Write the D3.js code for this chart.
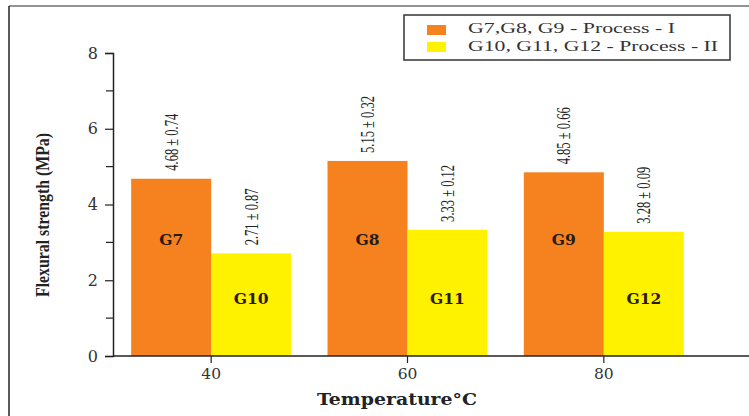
<!DOCTYPE html>
<html>
<head>
<meta charset="utf-8">
<script src="https://cdn.jsdelivr.net/npm/d3@7"></script>
<style>
  html, body { margin: 0; padding: 0; background: #fff; }
  svg { display: block; }
</style>
</head>
<body>
<svg id="chart" width="749" height="416"></svg>
<script>
// Flexural strength by processing temperature, two processes
const temperatures = ["40", "60", "80"];
const seriesNames = ["G7,G8, G9 - Process - I", "G10, G11, G12 - Process - II"];
const groupsI = ["G7", "G8", "G9"];
const groupsII = ["G10", "G11", "G12"];
const strengthI = [4.68, 5.15, 4.85];
const strengthII = [2.71, 3.33, 3.28];
const errorI = [0.74, 0.32, 0.66];
const errorII = [0.87, 0.12, 0.09];
const yTicks = [0, 2, 4, 6, 8];
const yMinorTicks = [1, 3, 5, 7];
const colors = ["#F5821F", "#FFF200"];

const svg = d3.select("#chart");
const W = 749, H = 416;

// page frame (top and left rules)
svg.append("line").attr("x1", 9).attr("x2", W).attr("y1", 6).attr("y2", 6)
  .attr("stroke", "#6f6f6f").attr("stroke-width", 1.5);
svg.append("line").attr("x1", 9).attr("x2", 9).attr("y1", 6).attr("y2", H)
  .attr("stroke", "#222").attr("stroke-width", 1.5);

const plot = { left: 113, top: 53, bottom: 356, right: 702 };

const x0 = d3.scaleBand().domain(temperatures).range([plot.left, plot.right]).padding(0);
const x1 = d3.scaleBand().domain([0, 1]).range([-80, 80]).padding(0);
const y = d3.scaleLinear().domain([0, 8]).range([plot.bottom, plot.top]);

const rows = temperatures.map((t, i) => [
  { t, s: 0, v: strengthI[i], e: errorI[i], g: groupsI[i] },
  { t, s: 1, v: strengthII[i], e: errorII[i], g: groupsII[i] }
]).flat();

const cx = d => x0(d.t) + x0.bandwidth() / 2;

// bars
svg.append("g").selectAll("rect").data(rows).join("rect")
  .attr("x", d => cx(d) + x1(d.s))
  .attr("width", x1.bandwidth())
  .attr("y", d => y(d.v))
  .attr("height", d => y(0) - y(d.v))
  .attr("fill", d => colors[d.s]);

// group names inside bars
const innerLevel = [3.08, 1.52];
svg.append("g").selectAll("text").data(rows).join("text")
  .attr("x", d => cx(d) + x1(d.s) + x1.bandwidth() / 2)
  .attr("y", d => y(innerLevel[d.s]))
  .attr("dy", "0.35em")
  .attr("text-anchor", "middle")
  .attr("font-family", "DejaVu Serif")
  .attr("font-weight", "bold")
  .attr("font-size", 15.5)
  .attr("fill", "#2a1a10")
  .text(d => d.g);

// mean ± sd labels above bars, rotated
svg.append("g").selectAll("text").data(rows).join("text")
  .attr("transform", d => `translate(${cx(d) + x1(d.s) + x1.bandwidth() / 2},${y(d.v) - 8}) rotate(-90)`)
  .attr("dy", "0.35em")
  .attr("text-anchor", "start")
  .attr("font-family", "Liberation Serif")
  .attr("font-size", 19)
  .attr("textLength", 57)
  .attr("lengthAdjust", "spacingAndGlyphs")
  .attr("fill", "#222")
  .text(d => `${d.v.toFixed(2)} ± ${d.e.toFixed(2)}`);

// y axis
const yAxis = svg.append("g").attr("transform", `translate(${plot.left},0)`)
  .call(d3.axisLeft(y).tickValues(yTicks).tickFormat(d3.format("d")).tickSize(8).tickPadding(7));
yAxis.select(".domain").attr("stroke", "#222").attr("stroke-width", 1.5);
yAxis.selectAll(".tick line").attr("stroke", "#222").attr("stroke-width", 1.2);
yAxis.selectAll(".tick text").attr("font-family", "DejaVu Serif").attr("font-size", 16).attr("fill", "#333");
svg.append("g").selectAll("line").data(yMinorTicks).join("line")
  .attr("x1", plot.left - 7).attr("x2", plot.left)
  .attr("y1", d => y(d)).attr("y2", d => y(d))
  .attr("stroke", "#222").attr("stroke-width", 1.2);

// x axis (baseline runs to the page edge)
const xAxis = svg.append("g").attr("transform", `translate(0,${plot.bottom})`)
  .call(d3.axisBottom(x0).tickSize(7).tickSizeOuter(0).tickPadding(5));
xAxis.select(".domain").remove();
xAxis.selectAll(".tick line").attr("stroke", "#222").attr("stroke-width", 1.2);
xAxis.selectAll(".tick text").attr("font-family", "DejaVu Serif").attr("font-size", 15.5).attr("fill", "#333");
svg.append("line").attr("x1", plot.left).attr("x2", W).attr("y1", plot.bottom).attr("y2", plot.bottom)
  .attr("stroke", "#222").attr("stroke-width", 1.5);

// axis titles
svg.append("text")
  .attr("x", 397).attr("y", 405)
  .attr("text-anchor", "middle")
  .attr("font-family", "DejaVu Serif").attr("font-weight", "bold").attr("font-size", 16)
  .attr("textLength", 160).attr("lengthAdjust", "spacingAndGlyphs")
  .attr("fill", "#222")
  .text("Temperature°C");

svg.append("text")
  .attr("transform", "translate(49,215) rotate(-90)")
  .attr("text-anchor", "middle")
  .attr("font-family", "Liberation Serif").attr("font-weight", "bold").attr("font-size", 19)
  .attr("textLength", 164).attr("lengthAdjust", "spacingAndGlyphs")
  .attr("fill", "#222")
  .text("Flexural strength (MPa)");

// legend
const legend = svg.append("g");
legend.append("rect").attr("x", 404).attr("y", 15).attr("width", 326).attr("height", 45)
  .attr("fill", "#fff").attr("stroke", "#333").attr("stroke-width", 1.5);
const legendLen = [207, 250];
seriesNames.forEach((name, i) => {
  legend.append("rect").attr("x", 427).attr("y", 25 + i * 17).attr("width", 19).attr("height", 10)
    .attr("fill", colors[i]);
  legend.append("text").attr("x", 468).attr("y", 33 + i * 18)
    .attr("font-family", "Liberation Serif").attr("font-size", 15.5)
    .attr("textLength", legendLen[i]).attr("lengthAdjust", "spacingAndGlyphs")
    .attr("fill", "#333")
    .text(name);
});
</script>
</body>
</html>
